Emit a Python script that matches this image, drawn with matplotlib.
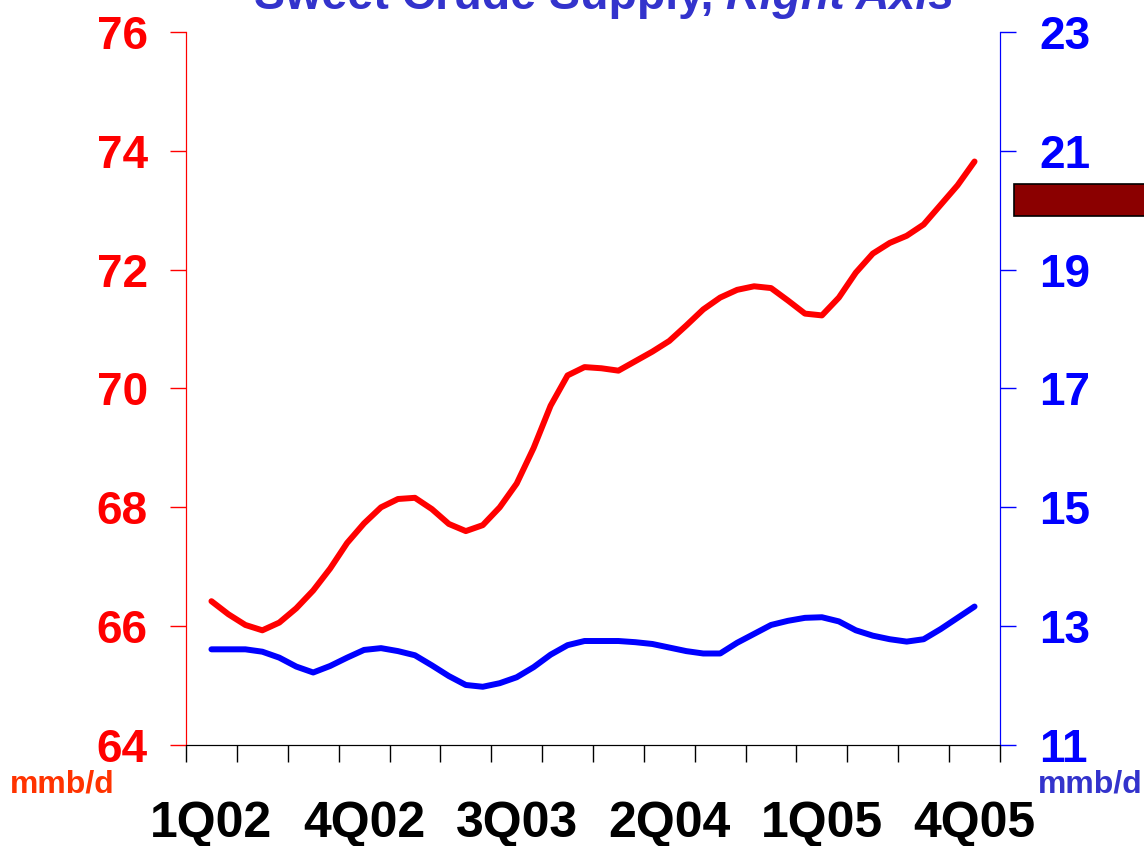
import numpy as np
import matplotlib
matplotlib.use("Agg")
import matplotlib.pyplot as plt
from matplotlib.patches import Rectangle

plt.rcParams['font.family'] = ['Liberation Sans', 'DejaVu Sans']
plt.rcParams['font.weight'] = 'bold'

# quarter labels (every third quarter is labelled)
quarter_labels = ['1Q02', '4Q02', '3Q03', '2Q04', '1Q05', '4Q05']
n_quarters = 16

# monthly values, starting in the middle of 1Q02
total_supply = [66.42, 66.20, 66.02, 65.93, 66.06, 66.30, 66.60, 66.97, 67.40, 67.73,
                68.00, 68.14, 68.16, 67.97, 67.72, 67.60, 67.70, 68.00, 68.40, 69.00,
                69.71, 70.22, 70.36, 70.34, 70.30, 70.46, 70.62, 70.80, 71.06, 71.33,
                71.53, 71.66, 71.72, 71.69, 71.48, 71.26, 71.23, 71.53, 71.95, 72.27,
                72.45, 72.57, 72.76, 73.09, 73.42, 73.82]
sweet_supply = [12.61, 12.61, 12.61, 12.57, 12.47, 12.32, 12.22, 12.33, 12.47, 12.60,
                12.63, 12.58, 12.51, 12.34, 12.16, 12.01, 11.98, 12.04, 12.14, 12.31,
                12.52, 12.68, 12.75, 12.75, 12.75, 12.73, 12.70, 12.64, 12.58, 12.54,
                12.54, 12.72, 12.87, 13.02, 13.09, 13.14, 13.15, 13.08, 12.93, 12.84,
                12.78, 12.74, 12.78, 12.95, 13.14, 13.33]

x = 0.5 + np.arange(len(total_supply)) / 3.0

fig = plt.figure(figsize=(11.44, 8.46), dpi=100)
ax = fig.add_axes([0.1626, 0.1194, 0.8741 - 0.1626, 0.9622 - 0.1194])
ax2 = ax.twinx()

ax.plot(x, total_supply, color='#FF0000', lw=4.3, solid_capstyle='round',
        solid_joinstyle='round', zorder=3)
ax2.plot(x, sweet_supply, color='#0000FF', lw=4.3, solid_capstyle='round',
         solid_joinstyle='round', zorder=3)

ax.set_xlim(0, n_quarters)
ax.set_ylim(64, 76)
ax2.set_ylim(11, 23)
ax.set_yticks(np.arange(64, 77, 2))
ax2.set_yticks(np.arange(11, 24, 2))

# quarter boundaries as ticks, labels in between
ax.set_xticks(np.arange(0, n_quarters + 1))
ax.set_xticklabels([])
ax.set_xticks(0.5 + 3 * np.arange(len(quarter_labels)), minor=True)
ax.set_xticklabels(quarter_labels, minor=True)
ax.tick_params(axis='x', which='major', direction='out', length=12, width=1, color='black')
ax.tick_params(axis='x', which='minor', length=0, labelsize=36, pad=40)

ax.tick_params(axis='y', direction='out', length=11.5, width=1, color='#FF0000',
               labelcolor='#FF0000', labelsize=33, pad=16)
ax2.tick_params(axis='y', direction='out', length=11.5, width=1, color='#0000FF',
                labelcolor='#0000FF', labelsize=33, pad=17)

for a in (ax, ax2):
    a.spines['top'].set_visible(False)
    a.spines['left'].set_color('#FF0000')
    a.spines['right'].set_color('#0000FF')
    a.spines['bottom'].set_color('black')

# units
fig.text(10 / 1144, 1 - 792 / 846, 'mmb/d', color='#FF3300', fontsize=23,
         ha='left', va='baseline')
fig.text(1142 / 1144, 1 - 792 / 846, 'mmb/d', color='#3333CC', fontsize=23,
         ha='right', va='baseline')

# title (cut off at the top in the original)
fig.text(714 / 1144, 1 - 9 / 846, 'Sweet Crude Supply,', color='#3333CC',
         fontsize=33.5, ha='right', va='baseline')
fig.text(726 / 1144, 1 - 9 / 846, 'Right Axis', color='#3333CC', fontsize=33.5,
         style='italic', ha='left', va='baseline')

# legend swatch partly outside the frame
fig.patches.append(Rectangle((1014 / 1144, 1 - 216 / 846), 0.15, 32 / 846,
                             transform=fig.transFigure, facecolor='#8B0000',
                             edgecolor='black', lw=1.2))

fig.savefig('out.png', dpi=100)
